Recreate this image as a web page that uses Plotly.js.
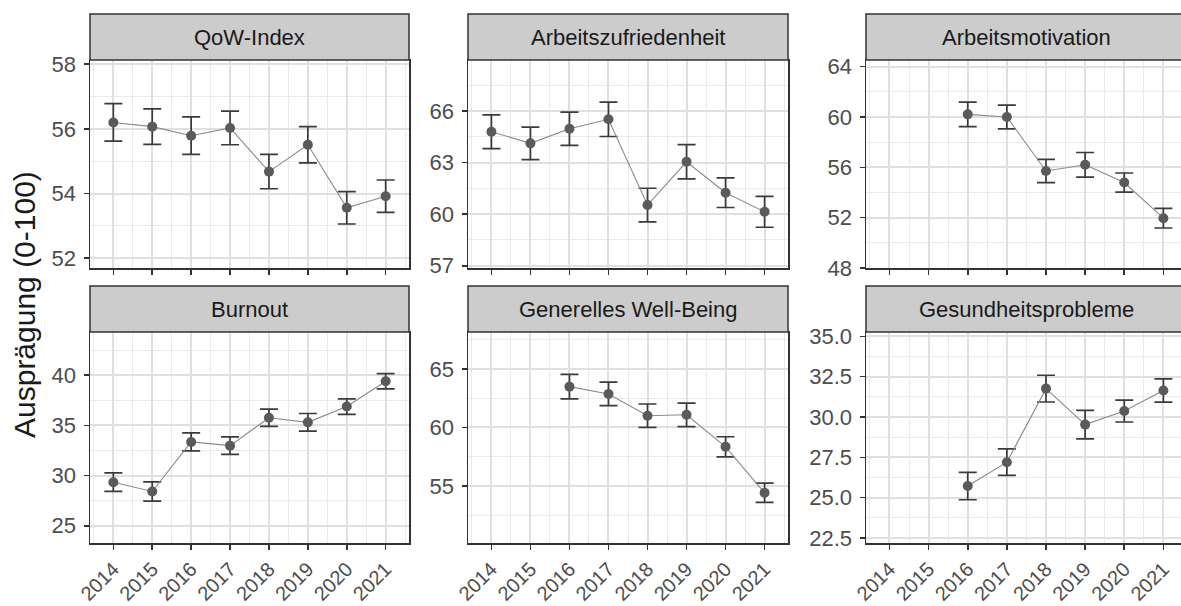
<!DOCTYPE html>
<html>
<head>
<meta charset="utf-8">
<script src="https://cdn.plot.ly/plotly-3.0.1.min.js"></script>
<style>
  html, body { margin: 0; padding: 0; background: #ffffff; }
  #chart { width: 1181px; height: 606px; }
</style>
</head>
<body>
<div id="chart"></div>
<script>
// ---- data ----
const years = [2014, 2015, 2016, 2017, 2018, 2019, 2020, 2021];
const panelTitles = ["QoW-Index", "Arbeitszufriedenheit", "Arbeitsmotivation", "Burnout", "Generelles Well-Being", "Gesundheitsprobleme"];

const qowIndex = [56.20, 56.07, 55.79, 56.03, 54.68, 55.51, 53.56, 53.92];
const qowIndexErr = [0.58, 0.55, 0.58, 0.52, 0.53, 0.56, 0.50, 0.50];

const arbeitszufriedenheit = [64.80, 64.12, 64.97, 65.52, 60.53, 63.05, 61.25, 60.14];
const arbeitszufriedenheitErr = [0.98, 0.95, 0.97, 1.00, 0.98, 1.00, 0.86, 0.90];

const arbeitsmotivation = [null, null, 60.21, 60.00, 55.71, 56.20, 54.79, 51.96];
const arbeitsmotivationErr = [null, null, 0.98, 0.95, 0.93, 0.98, 0.76, 0.78];

const burnout = [29.34, 28.41, 33.35, 32.98, 35.76, 35.30, 36.87, 39.39];
const burnoutErr = [0.92, 0.96, 0.90, 0.88, 0.86, 0.88, 0.77, 0.76];

const wellBeing = [null, null, 63.48, 62.86, 61.00, 61.08, 58.35, 54.43];
const wellBeingErr = [null, null, 1.05, 1.00, 1.00, 1.00, 0.86, 0.82];

const gesundheit = [null, null, 25.72, 27.20, 31.76, 29.53, 30.37, 31.64];
const gesundheitErr = [null, null, 0.85, 0.82, 0.83, 0.88, 0.68, 0.72];

const yTitle = "Ausprägung (0-100)";

// ---- layout helpers ----
const W = 1181, H = 606;
const px = v => v / W;
const py = v => 1 - v / H;

const series = [
  {y: qowIndex, e: qowIndexErr, range: [51.70, 58.13], tick0: 52, dtick: 2, fmt: ""},
  {y: arbeitszufriedenheit, e: arbeitszufriedenheitErr, range: [56.87, 68.97], tick0: 57, dtick: 3, fmt: ""},
  {y: arbeitsmotivation, e: arbeitsmotivationErr, range: [48.0, 64.53], tick0: 48, dtick: 4, fmt: ""},
  {y: burnout, e: burnoutErr, range: [23.28, 44.3], tick0: 25, dtick: 5, fmt: ""},
  {y: wellBeing, e: wellBeingErr, range: [50.15, 68.14], tick0: 55, dtick: 5, fmt: ""},
  {y: gesundheit, e: gesundheitErr, range: [22.19, 35.27], tick0: 22.5, dtick: 2.5, fmt: ".1f"}
];

const colsPx = [[90, 409], [468, 788], [866, 1181]];
const xRanges = [[2013.4, 2021.6], [2013.4, 2021.6], [2013.4, 2021.45]];
const rowsPx = [{strip: [14, 60], plot: [60, 268]}, {strip: [286, 332], plot: [332, 543]}];

const font = "Liberation Sans, Arial, sans-serif";
const traces = [];
const layout = {
  width: W, height: H,
  margin: {l: 0, r: 0, t: 0, b: 0},
  paper_bgcolor: "#ffffff",
  plot_bgcolor: "#ffffff",
  showlegend: false,
  font: {family: font, color: "#4d4d4d"},
  shapes: [],
  annotations: []
};

series.forEach((s, i) => {
  const r = Math.floor(i / 3), c = i % 3;
  const n = i + 1;
  const xa = "x" + (n === 1 ? "" : n), ya = "y" + (n === 1 ? "" : n);
  const xk = "xaxis" + (n === 1 ? "" : n), yk = "yaxis" + (n === 1 ? "" : n);
  traces.push({
    type: "scatter",
    mode: "lines+markers",
    x: years, y: s.y,
    xaxis: xa, yaxis: ya,
    line: {color: "#8a8a8a", width: 1.1},
    marker: {color: "#5a5a5a", size: 10},
    error_y: {type: "data", array: s.e, visible: true, color: "#3a3a3a", thickness: 1.7, width: 9},
    hoverinfo: "x+y"
  });
  const common = {
    showline: true, mirror: true, linecolor: "#333333", linewidth: 1.5,
    ticks: "outside", ticklen: 5, tickwidth: 1.6, tickcolor: "#333333",
    showgrid: true, gridcolor: "#e0e0e0", gridwidth: 2,
    zeroline: false,
    tickfont: {family: font, size: 22, color: "#4d4d4d"},
    ticklabelstandoff: 3
  };
  layout[xk] = Object.assign({}, common, {
    domain: [px(colsPx[c][0]), px(colsPx[c][1])],
    range: xRanges[c],
    anchor: ya,
    tickmode: "linear", tick0: years[0], dtick: 1,
    tickangle: -45,
    tickfont: {family: font, size: 20, color: "#4d4d4d"},
    ticklabelstandoff: 0,
    showticklabels: r === 1,
    minor: {tickmode: "linear", tick0: years[0] - 0.5, dtick: 1, showgrid: true, gridcolor: "#eaeaea", gridwidth: 1, ticklen: 0}
  });
  layout[yk] = Object.assign({}, common, {
    domain: [py(rowsPx[r].plot[1]), py(rowsPx[r].plot[0])],
    range: s.range,
    anchor: xa,
    tickmode: "linear", tick0: s.tick0, dtick: s.dtick,
    tickformat: s.fmt,
    minor: {tickmode: "linear", tick0: s.tick0 + s.dtick / 2, dtick: s.dtick, showgrid: true, gridcolor: "#eaeaea", gridwidth: 1, ticklen: 0}
  });
  // strip
  layout.shapes.push({
    type: "rect", xref: "paper", yref: "paper",
    x0: px(colsPx[c][0]), x1: px(colsPx[c][1] + (c === 2 ? 10 : 0)),
    y0: py(rowsPx[r].strip[1]), y1: py(rowsPx[r].strip[0]),
    fillcolor: "#cccccc", line: {color: "#333333", width: 1.5}, layer: "above"
  });
  layout.annotations.push({
    xref: "paper", yref: "paper",
    x: px((colsPx[c][0] + (c === 2 ? colsPx[c][0] + (1186 - 866) : colsPx[c][1])) / 2),
    y: py((rowsPx[r].strip[0] + rowsPx[r].strip[1]) / 2),
    text: panelTitles[i], showarrow: false,
    xanchor: "center", yanchor: "middle",
    font: {family: font, size: 22, color: "#1a1a1a"}
  });
});

layout.annotations.push({
  xref: "paper", yref: "paper",
  x: px(24), y: py(305),
  text: yTitle, textangle: -90, showarrow: false,
  xanchor: "center", yanchor: "middle",
  font: {family: font, size: 30, color: "#1a1a1a"}
});

Plotly.newPlot("chart", traces, layout, {staticPlot: true, displayModeBar: false});
</script>
</body>
</html>
